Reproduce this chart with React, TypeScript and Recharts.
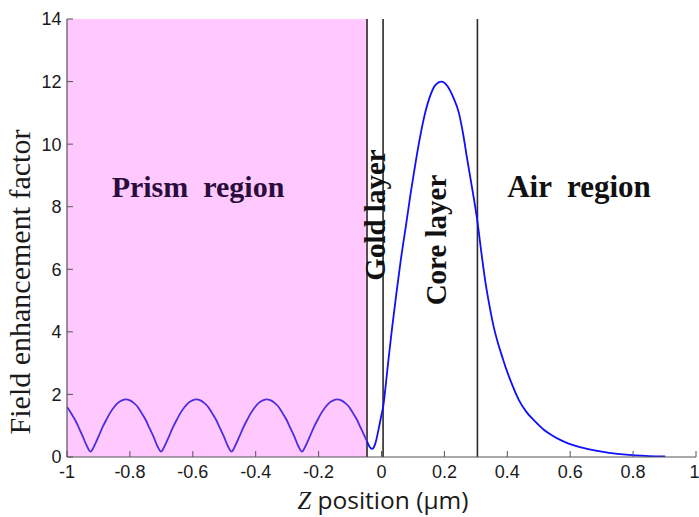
import React from 'react';
import { LineChart, Line, XAxis, YAxis, ReferenceArea, ReferenceLine } from 'recharts';

const prismZ = [
  -1, -0.988, -0.975, -0.963, -0.95, -0.938, -0.925, -0.913, -0.9, -0.888, -0.875, -0.863, -0.85, -0.838, -0.825,
  -0.813, -0.8, -0.788, -0.775, -0.763, -0.75, -0.738, -0.725, -0.713, -0.701, -0.689, -0.676, -0.664, -0.651,
  -0.639, -0.626, -0.614, -0.601, -0.589, -0.576, -0.564, -0.551, -0.539, -0.526, -0.514, -0.501, -0.489, -0.477,
  -0.465, -0.452, -0.44, -0.427, -0.415, -0.402, -0.39, -0.377, -0.365, -0.352, -0.34, -0.327, -0.315, -0.302,
  -0.29, -0.277, -0.265, -0.253, -0.241, -0.228, -0.216, -0.203, -0.191, -0.178, -0.166, -0.153, -0.141, -0.128,
  -0.116, -0.103, -0.091, -0.078, -0.066, -0.053, -0.046,
];
const prismField = [
  1.6, 1.42, 1.2, 0.95, 0.66, 0.38, 0.17, 0.36, 0.65, 0.93, 1.19, 1.41, 1.6, 1.73, 1.81,
  1.84, 1.81, 1.73, 1.6, 1.41, 1.19, 0.93, 0.65, 0.36, 0.17, 0.36, 0.65, 0.93, 1.19,
  1.41, 1.6, 1.73, 1.81, 1.84, 1.81, 1.73, 1.6, 1.41, 1.19, 0.93, 0.65, 0.36, 0.17,
  0.36, 0.65, 0.93, 1.19, 1.41, 1.6, 1.73, 1.81, 1.84, 1.81, 1.73, 1.6, 1.41, 1.19,
  0.93, 0.65, 0.36, 0.17, 0.36, 0.65, 0.93, 1.19, 1.41, 1.6, 1.73, 1.81, 1.84, 1.81,
  1.73, 1.6, 1.41, 1.19, 0.93, 0.65, 0.5,
];

const guidedZ = [
  -0.046, -0.038, -0.03, -0.02, -0.01, 0, 0.006, 0.014, 0.022, 0.034, 0.047, 0.06, 0.077, 0.093, 0.109, 0.125,
  0.14, 0.155, 0.17, 0.191, 0.21, 0.228, 0.246, 0.26, 0.272, 0.288, 0.304, 0.318, 0.331, 0.344, 0.357, 0.37,
  0.384, 0.397, 0.41, 0.437, 0.46, 0.49, 0.515, 0.543, 0.57, 0.595, 0.65, 0.7, 0.75, 0.807, 0.85, 0.902,
];
const guidedField = [
  0.5, 0.33, 0.26, 0.42, 0.85, 1.35, 1.65, 2.35, 3.1, 4.15, 5.2, 6.2, 7.35, 8.45, 9.45, 10.35,
  11.05, 11.55, 11.87, 12.0, 11.85, 11.5, 11.0, 10.3, 9.55, 8.6, 7.6, 6.5, 5.55, 4.8, 4.15, 3.65,
  3.2, 2.8, 2.45, 1.82, 1.45, 1.12, 0.88, 0.69, 0.54, 0.43, 0.27, 0.17, 0.1, 0.05, 0.03, 0.02,
];

const xTicks = [-1, -0.8, -0.6, -0.4, -0.2, 0, 0.2, 0.4, 0.6, 0.8, 1];
const yTicks = [0, 2, 4, 6, 8, 10, 12, 14];

const prismEnd = -0.046;
const goldEnd = 0.005;
const coreEnd = 0.305;

const prismData = prismZ.map((z, i) => ({ z, f: prismField[i] }));
const guidedData = guidedZ.map((z, i) => ({ z, f: guidedField[i] }));

const W = 699;
const H = 517;
const tickFont = { fontFamily: '"Liberation Sans", Arial, sans-serif', fontSize: 18, fill: '#1a1a1a' };
const axisColor = '#555';
const serif = '"Liberation Serif", "Times New Roman", serif';

export default function App() {
  return (
    <div style={{ position: 'absolute', left: 0, top: 0, width: W, height: H, background: '#fff' }}>
      <LineChart width={W} height={H} margin={{ top: 19, right: 3, bottom: 0, left: 0 }}>
        <ReferenceArea x1={-1} x2={prismEnd} y1={0} y2={14} fill="#ffc8ff" fillOpacity={1} stroke="none" />
        <XAxis
          dataKey="z"
          type="number"
          domain={[-1, 1]}
          ticks={xTicks}
          allowDataOverflow
          height={60}
          tickSize={-6}
          tickMargin={14}
          tick={tickFont}
          tickLine={{ stroke: axisColor }}
          axisLine={{ stroke: axisColor, strokeWidth: 1.2 }}
        />
        <XAxis
          xAxisId="top"
          orientation="top"
          type="number"
          domain={[-1, 1]}
          ticks={xTicks}
          allowDataOverflow
          height={0}
          tickSize={-6}
          tick={false}
          tickLine={{ stroke: axisColor }}
          axisLine={{ stroke: axisColor, strokeWidth: 1.2 }}
        />
        <YAxis
          type="number"
          domain={[0, 14]}
          ticks={yTicks}
          allowDataOverflow
          width={67}
          tickSize={-6}
          tickMargin={11.5}
          tick={tickFont}
          tickLine={{ stroke: axisColor }}
          axisLine={{ stroke: axisColor, strokeWidth: 1.2 }}
        />
        <YAxis
          yAxisId="right"
          orientation="right"
          type="number"
          domain={[0, 14]}
          ticks={yTicks}
          allowDataOverflow
          width={0}
          tickSize={-6}
          tick={false}
          tickLine={{ stroke: axisColor }}
          axisLine={{ stroke: axisColor, strokeWidth: 1.2 }}
        />
        <ReferenceLine x={prismEnd} stroke="#2a2a2a" strokeWidth={1.6} />
        <ReferenceLine x={goldEnd} stroke="#2a2a2a" strokeWidth={1.6} />
        <ReferenceLine x={coreEnd} stroke="#2a2a2a" strokeWidth={1.6} />
        <Line
          data={prismData}
          dataKey="f"
          type="monotone"
          stroke="#4a2ee0"
          strokeWidth={1.8}
          dot={false}
          activeDot={false}
          isAnimationActive={false}
        />
        <Line
          data={guidedData}
          dataKey="f"
          type="monotone"
          stroke="#0f0fff"
          strokeWidth={1.8}
          dot={false}
          activeDot={false}
          isAnimationActive={false}
        />
      </LineChart>
      <svg
        width={W}
        height={H}
        style={{ position: 'absolute', left: 0, top: 0, pointerEvents: 'none' }}
      >
        <text x={198} y={197} textAnchor="middle" fontFamily={serif} fontWeight="bold" fontSize={30} fill="#2a0d3a" xmlSpace="preserve">
          Prism  region
        </text>
        <text x={579} y={197} textAnchor="middle" fontFamily={serif} fontWeight="bold" fontSize={31} fill="#111" xmlSpace="preserve">
          Air  region
        </text>
        <text transform="translate(385,215) rotate(-90)" textAnchor="middle" fontFamily={serif} fontWeight="bold" fontSize={29} fill="#111">
          Gold layer
        </text>
        <text transform="translate(446,240) rotate(-90)" textAnchor="middle" fontFamily={serif} fontWeight="bold" fontSize={29} fill="#111">
          Core layer
        </text>
        <text transform="translate(30,282) rotate(-90)" textAnchor="middle" fontFamily={serif} fontSize={30} fill="#1a1a1a">
          Field enhancement factor
        </text>
        <text x={383} y={509} textAnchor="middle" fontFamily='"Open Sans", "Noto Sans", sans-serif' fontSize={24.5} fill="#1a1a1a">
          <tspan fontFamily={serif} fontStyle="italic">Z</tspan> position (μm)
        </text>
      </svg>
    </div>
  );
}
